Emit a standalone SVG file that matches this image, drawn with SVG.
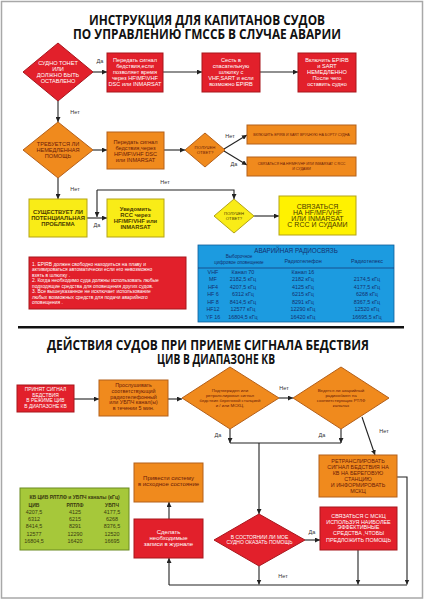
<svg xmlns="http://www.w3.org/2000/svg" width="424" height="600" viewBox="0 0 424 600">
<defs>
<marker id="ah" viewBox="0 0 6 6" refX="6" refY="3" markerWidth="5" markerHeight="5" markerUnits="userSpaceOnUse" orient="auto"><path d="M0,0 L6,3 L0,6 z" fill="#222"/></marker>
</defs>
<style>
text{font-family:"Liberation Sans",Arial,sans-serif;text-anchor:middle}
.title{font-family:"Open Sans","Liberation Sans",sans-serif;font-weight:bold;fill:#111;font-size:14px}
.red{fill:#e2202b;stroke:#a8161d;stroke-width:1}
.org{fill:#f08a1d;stroke:#b4601a;stroke-width:1}
.yel{fill:#f9ec17;stroke:#b3a316;stroke-width:1}
.yel2{fill:#fff200;stroke:#b3a316;stroke-width:1}
.tw{fill:#fff;font-size:5.6px}
.td{fill:#6a1a08;font-size:5.6px}
.ty{fill:#4a3a00;font-size:5.8px;font-weight:bold}
.lbl{fill:#333;font-size:5.5px}
.con{fill:none;stroke:#222;stroke-width:1.1}
.arr{fill:none;stroke:#222;stroke-width:1.1;marker-end:url(#ah)}
.tb{fill:#14306e;font-size:5.4px}
.tg{fill:#3a3a10;font-size:5.4px}
</style>
<rect x="0" y="0" width="424" height="600" fill="#fff"/>
<rect x="1.5" y="1.5" width="421" height="596.5" fill="none" stroke="#a8a8a8" stroke-width="1.5"/>

<text class="title" x="207" y="25" textLength="236" lengthAdjust="spacingAndGlyphs">ИНСТРУКЦИЯ ДЛЯ КАПИТАНОВ СУДОВ</text>
<text class="title" x="207" y="38.5" textLength="268" lengthAdjust="spacingAndGlyphs">ПО УПРАВЛЕНИЮ ГМССБ В СЛУЧАЕ АВАРИИ</text>

<g id="connectors">
<path class="arr" d="M93,72 H107"/>
<path class="arr" d="M163,72 H202"/>
<path class="arr" d="M260,72 H298"/>
<path class="arr" d="M58,101 V122"/>
<path class="arr" d="M93,150 H107"/>
<path class="arr" d="M164,150 H185"/>
<path class="arr" d="M224,149 L247,135"/>
<path class="arr" d="M224,151 L247,165"/>
<path class="arr" d="M58,178 V199"/>
<path class="arr" d="M87,218 H107"/>
<path class="arr" d="M97,190 V217"/>
<path class="arr" d="M97,190 H234 V199"/>
<path class="arr" d="M254,216 H279"/>
<path class="arr" d="M74,399 H99"/>
<path class="arr" d="M168,399 H182"/>
<path class="arr" d="M279,398 H293"/>
<path class="arr" d="M230,429 V443"/>
<path class="arr" d="M341,429 V443"/>
<path class="con" d="M230,443 H341"/>
<path class="arr" d="M259,443 V514"/>
<path class="arr" d="M362,417 L375,455"/>
<path class="arr" d="M305,540 H320"/>
<path class="arr" d="M259,566 V584.5"/>
<path class="arr" d="M358,550 V584.5"/>
<path class="arr" d="M397,477 H407 V584.5"/>
<path class="con" d="M407,585 H169"/>
<path class="arr" d="M169,585 V558"/>
<path class="arr" d="M169,519 V502"/>
<text class="lbl" x="100" y="63">Да</text>
<text class="lbl" x="75" y="114">Нет</text>
<text class="lbl" x="230" y="138">Нет</text>
<text class="lbl" x="234" y="166">Да</text>
<text class="lbl" x="75" y="191">Нет</text>
<text class="lbl" x="165" y="184">Нет</text>
<text class="lbl" x="97" y="227">Да</text>
<text class="lbl" x="284" y="390">Нет</text>
<text class="lbl" x="218" y="437">Да</text>
<text class="lbl" x="322" y="437">Да</text>
<text class="lbl" x="384" y="433">Нет</text>
<text class="lbl" x="312" y="534">Да</text>
<text class="lbl" x="283" y="578">Нет</text>
</g>

<g id="d1">
<polygon class="red" points="58,43 93,72 58,101 23,72"/>
<text class="tw"><tspan x="58" y="65">СУДНО ТОНЕТ</tspan><tspan x="58" y="71">ИЛИ</tspan><tspan x="58" y="77">ДОЛЖНО БЫТЬ</tspan><tspan x="58" y="83">ОСТАВЛЕНО</tspan></text>
</g>
<g id="b1">
<rect class="red" x="107" y="53" width="56" height="39"/>
<text class="tw"><tspan x="135" y="62">Передать сигнал</tspan><tspan x="135" y="68">бедствия,если</tspan><tspan x="135" y="74">позволяет время</tspan><tspan x="135" y="80">через HF\MF\VHF</tspan><tspan x="135" y="86">DSC или INMARSAT</tspan></text>
</g>
<g id="b2">
<rect class="red" x="202" y="53" width="58" height="39"/>
<text class="tw"><tspan x="231" y="62">Сесть в</tspan><tspan x="231" y="68">спасательную</tspan><tspan x="231" y="74">шлюпку с</tspan><tspan x="231" y="80">VHF,SART и если</tspan><tspan x="231" y="86">возможно EPIRB</tspan></text>
</g>
<g id="b3">
<rect class="red" x="298" y="53" width="58" height="39"/>
<text class="tw"><tspan x="327" y="62">Включить EPIRB</tspan><tspan x="327" y="68">и SART</tspan><tspan x="327" y="74">НЕМЕДЛЕННО</tspan><tspan x="327" y="80">После чего</tspan><tspan x="327" y="86">оставить судно</tspan></text>
</g>

<g id="d2">
<polygon class="org" points="58,122 93,150 58,178 23,150"/>
<text class="td"><tspan x="58" y="146">ТРЕБУЕТСЯ ЛИ</tspan><tspan x="58" y="152">НЕМЕДЛЕННАЯ</tspan><tspan x="58" y="158">ПОМОЩЬ</tspan></text>
</g>
<g id="b4">
<rect class="org" x="107" y="132" width="57" height="37"/>
<text class="td"><tspan x="135.5" y="144">Передать сигнал</tspan><tspan x="135.5" y="150">бедствия,через</tspan><tspan x="135.5" y="156">HF\MF\VHF DSC</tspan><tspan x="135.5" y="162">или INMARSAT</tspan></text>
</g>
<g id="d3">
<polygon class="org" points="205,133 225,150 205,167 185,150"/>
<text class="td" style="font-size:4.3px"><tspan x="205" y="149">ПОЛУЧЕН</tspan><tspan x="205" y="154">ОТВЕТ?</tspan></text>
</g>
<g id="b5">
<rect class="org" x="247" y="125" width="109" height="19"/>
<text class="td" style="font-size:3.6px" x="301.5" y="136">ВКЛЮЧИТЬ EPIRB И SART ВРУЧНУЮ НА БОРТУ СУДНА</text>
</g>
<g id="b6">
<rect class="org" x="247" y="157" width="109" height="19"/>
<text class="td" style="font-size:3.6px"><tspan x="301.5" y="165">СВЯЗАТЬСЯ НА HF/MF/VHF ИЛИ INMARSAT С RCC</tspan><tspan x="301.5" y="169.5">И СУДАМИ</tspan></text>
</g>

<g id="b7">
<rect class="yel" x="29" y="199" width="58" height="38"/>
<text class="ty"><tspan x="58" y="214">СУЩЕСТВУЕТ ЛИ</tspan><tspan x="58" y="220">ПОТЕНЦИАЛЬНАЯ</tspan><tspan x="58" y="226">ПРОБЛЕМА</tspan></text>
</g>
<g id="b8">
<rect class="yel" x="107" y="199" width="57" height="38"/>
<text class="ty"><tspan x="135.5" y="211">Уведомить</tspan><tspan x="135.5" y="217">RCC через</tspan><tspan x="135.5" y="223">HF/MF/VHF или</tspan><tspan x="135.5" y="229">INMARSAT</tspan></text>
</g>
<g id="d4">
<polygon class="yel" points="234,199 254,216 234,233 214,216"/>
<text class="ty" style="font-size:4.2px;font-weight:normal"><tspan x="234" y="215">ПОЛУЧЕН</tspan><tspan x="234" y="220">ОТВЕТ?</tspan></text>
</g>
<g id="b9">
<rect class="yel2" x="279" y="196" width="77" height="39"/>
<text class="ty" style="font-size:7px;font-weight:normal"><tspan x="317.5" y="208.5">СВЯЗАТЬСЯ</tspan><tspan x="317.5" y="214.5">НА HF/MF/VHF</tspan><tspan x="317.5" y="220.5">ИЛИ INMARSAT</tspan><tspan x="317.5" y="226.5">С RCC И СУДАМИ</tspan></text>
</g>

<g id="notes">
<rect class="red" x="29" y="257" width="157" height="52"/>
<text class="tw" style="font-size:4.9px;text-anchor:start"><tspan x="32" y="265.5">1. EPIRB должен свободно находиться на плаву и</tspan><tspan x="32" y="271">активироваться автоматически если его невозможно</tspan><tspan x="32" y="276.5">взять в шлюпку .</tspan><tspan x="32" y="282">2. Когда необходимо суда должны использовать любые</tspan><tspan x="32" y="287.5">подходящие средства для оповещения других судов.</tspan><tspan x="32" y="293">3. Все вышеуказанное не исключает использование</tspan><tspan x="32" y="298.5">любых возможных средств для подачи аварийного</tspan><tspan x="32" y="304">оповещения .</tspan></text>
</g>

<g id="radio-table">
<rect x="198" y="245" width="196" height="77" fill="#1c9be0" stroke="#0f5d99" stroke-width="0.8"/>
<text class="tb" style="font-size:6.3px" x="296" y="253">АВАРИЙНАЯ РАДИОСВЯЗЬ</text>
<text class="tb" style="font-size:4.6px"><tspan x="239" y="258">Выборочное</tspan><tspan x="239" y="264">цифровое оповещение</tspan></text>
<text class="tb" x="303" y="263">Радиотелефон</text>
<text class="tb" x="367" y="263">Радиотелекс</text>
<line x1="198" y1="268" x2="394" y2="268" stroke="#14306e" stroke-width="0.7"/>
<text class="tb"><tspan x="213" y="274">VHF</tspan><tspan x="213" y="281">MF</tspan><tspan x="213" y="288.5">HF4</tspan><tspan x="213" y="295.5">HF 6</tspan><tspan x="213" y="303.5">HF 8</tspan><tspan x="213" y="311">HF12</tspan><tspan x="213" y="319">YF 16</tspan></text>
<text class="tb"><tspan x="243" y="274">Канал 70</tspan><tspan x="243" y="281">2182,5 кГц</tspan><tspan x="243" y="288.5">4207,5 кГц</tspan><tspan x="243" y="295.5">6312 кГц</tspan><tspan x="243" y="303.5">8414,5 кГц</tspan><tspan x="243" y="311">12577 кГц</tspan><tspan x="243" y="319">16804,5 кГц</tspan></text>
<text class="tb"><tspan x="303" y="274">Канал 16</tspan><tspan x="303" y="281">2182 кГц</tspan><tspan x="303" y="288.5">4125 кГц</tspan><tspan x="303" y="295.5">6215 кГц</tspan><tspan x="303" y="303.5">8291 кГц</tspan><tspan x="303" y="311">12290 кГц</tspan><tspan x="303" y="319">16420 кГц</tspan></text>
<text class="tb"><tspan x="367" y="281">2174,5 кГц</tspan><tspan x="367" y="288.5">4177,5 кГц</tspan><tspan x="367" y="295.5">6268 кГц</tspan><tspan x="367" y="303.5">8367,5 кГц</tspan><tspan x="367" y="311">12520 кГц</tspan><tspan x="367" y="319">16695,5 кГц</tspan></text>
</g>

<rect x="18" y="326" width="386" height="2.5" fill="#111"/>

<text class="title" x="208" y="350" textLength="322" lengthAdjust="spacingAndGlyphs">ДЕЙСТВИЯ СУДОВ ПРИ ПРИЕМЕ СИГНАЛА БЕДСТВИЯ</text>
<text class="title" x="216" y="364" textLength="118" lengthAdjust="spacingAndGlyphs">ЦИВ В ДИАПАЗОНЕ КВ</text>

<g id="bA">
<rect class="red" x="17" y="385" width="57" height="27"/>
<text class="tw" style="font-size:4.9px"><tspan x="45.5" y="391">ПРИНЯТ СИГНАЛ</tspan><tspan x="45.5" y="396.5">БЕДСТВИЯ</tspan><tspan x="45.5" y="402">В РЕЖИМЕ ЦИВ</tspan><tspan x="45.5" y="407.5">В ДИАПАЗОНЕ КВ</tspan></text>
</g>
<g id="bB">
<rect class="org" x="99" y="380" width="69" height="36"/>
<text class="td" style="font-size:5.4px"><tspan x="133.5" y="387">Прослушивать</tspan><tspan x="133.5" y="393">соответствующий</tspan><tspan x="133.5" y="398.7">радиотелефонный</tspan><tspan x="133.5" y="404.3">или УБПЧ канал(ы)</tspan><tspan x="133.5" y="410.3">в течении 5 мин.</tspan></text>
</g>
<g id="dC">
<polygon class="org" points="230,367 279,398 230,429 182,398"/>
<text class="td" style="font-size:4.4px"><tspan x="230" y="391.5">Подтвержден или</tspan><tspan x="230" y="396.5">ретранслирован сигнал</tspan><tspan x="230" y="401.5">бедствия береговой станцией</tspan><tspan x="230" y="406.5">и / или МСКЦ.</tspan></text>
</g>
<g id="dD">
<polygon class="org" points="341,367 389,398 341,429 293,398"/>
<text class="td" style="font-size:4.4px"><tspan x="341" y="392">Ведется ли аварийный</tspan><tspan x="341" y="397">радиообмен на</tspan><tspan x="341" y="402">соответствующих РТЛФ</tspan><tspan x="341" y="407">каналах</tspan></text>
</g>
<g id="bF">
<rect class="org" x="319" y="455" width="78" height="42"/>
<text class="td" style="font-size:5.4px"><tspan x="358" y="463">РЕТРАНСЛИРОВАТЬ</tspan><tspan x="358" y="469">СИГНАЛ БЕДСТВИЯ НА</tspan><tspan x="358" y="474.5">КВ НА БЕРЕГОВУЮ</tspan><tspan x="358" y="480.5">СТАНЦИЮ</tspan><tspan x="358" y="486.5">И ИНФОРМИРОВАТЬ</tspan><tspan x="358" y="492.5">МСКЦ</tspan></text>
</g>
<g id="bG">
<rect class="red" x="320" y="507" width="77" height="43"/>
<text class="tw" style="font-size:5.4px"><tspan x="358.5" y="517.5">СВЯЗАТЬСЯ С МСКЦ</tspan><tspan x="358.5" y="523.5">ИСПОЛЬЗУЯ НАИБОЛЕЕ</tspan><tspan x="358.5" y="529.3">ЭФФЕКТИВНЫЕ</tspan><tspan x="358.5" y="535.3">СРЕДСТВА ,ЧТОБЫ</tspan><tspan x="358.5" y="541.5">ПРЕДЛОЖИТЬ ПОМОЩЬ</tspan></text>
</g>
<g id="dE">
<polygon class="red" points="259,514 305,540 259,566 214,540"/>
<text class="tw" style="font-size:5px"><tspan x="259.5" y="538.5">В СОСТОЯНИИ ЛИ МОЕ</tspan><tspan x="259.5" y="544">СУДНО ОКАЗАТЬ ПОМОЩЬ</tspan></text>
</g>
<g id="bH">
<rect class="red" x="134" y="519" width="69" height="39"/>
<text class="tw" style="font-size:6px"><tspan x="168.5" y="533.7">Сделать</tspan><tspan x="168.5" y="539.5">необходимые</tspan><tspan x="168.5" y="545.5">записи в журнале</tspan></text>
</g>
<g id="bI">
<rect class="org" x="134" y="463" width="69" height="39"/>
<text class="td" style="font-size:6px"><tspan x="168.5" y="480.3">Привести систему</tspan><tspan x="168.5" y="486.3">в исходное состояние</tspan></text>
</g>

<g id="hf-table">
<rect x="20" y="488" width="109" height="62" fill="#a6c83a" stroke="#6a8a20" stroke-width="1"/>
<text class="tg" style="font-weight:bold;font-size:5px" x="74.5" y="499">КВ ЦИВ РЛТЛФ и УБПЧ каналы (кГц)</text>
<text class="tg" style="font-weight:bold;font-size:5px"><tspan x="34" y="507">ЦИВ</tspan><tspan x="75" y="507">РЛТЛФ</tspan><tspan x="112" y="507">УБПЧ</tspan></text>
<text class="tg"><tspan x="34" y="514">4207,5</tspan><tspan x="34" y="521">6312</tspan><tspan x="34" y="528">8414,5</tspan><tspan x="34" y="536">12577</tspan><tspan x="34" y="543">16804,5</tspan></text>
<text class="tg"><tspan x="75" y="514">4125</tspan><tspan x="75" y="521">6215</tspan><tspan x="75" y="528">8291</tspan><tspan x="75" y="536">12290</tspan><tspan x="75" y="543">16420</tspan></text>
<text class="tg"><tspan x="112" y="514">4177,5</tspan><tspan x="112" y="521">6268</tspan><tspan x="112" y="528">8376,5</tspan><tspan x="112" y="536">12520</tspan><tspan x="112" y="543">16695</tspan></text>
</g>
</svg>
